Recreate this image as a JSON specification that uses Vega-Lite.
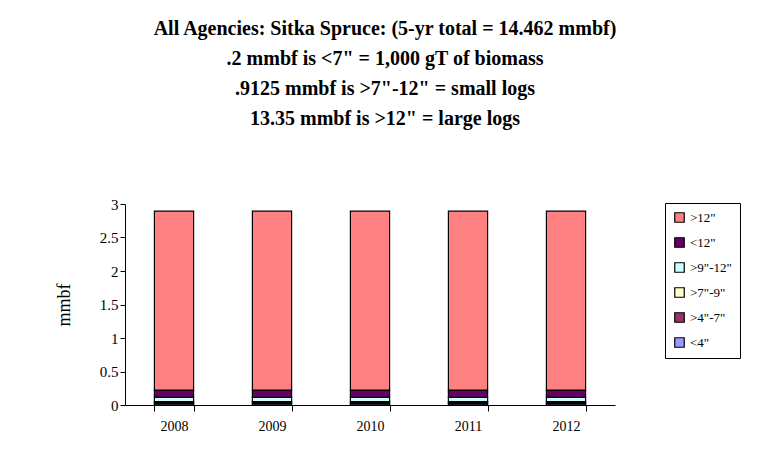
{
  "$schema": "https://vega.github.io/schema/vega-lite/v6.json",
  "width": 490,
  "height": 201,
  "autosize": {"type": "none"},
  "padding": {"left": 125, "top": 204, "right": 150, "bottom": 60},
  "background": "white",
  "title": {
    "text": ["All Agencies:  Sitka Spruce: (5-yr total = 14.462 mmbf)", ".2 mmbf is <7\" = 1,000 gT of biomass", ".9125 mmbf is >7\"-12\" = small logs", "13.35 mmbf is >12\" = large logs"],
    "font": "Liberation Serif",
    "fontSize": 20,
    "fontWeight": "bold",
    "lineHeight": 30,
    "anchor": "middle",
    "dx": 15,
    "offset": 68,
    "color": "black"
  },
  "data": {
    "values": [
      {"year": "2008", "size": "<4\"", "ord": 1, "mmbf": 0.02},
      {"year": "2008", "size": ">4\"-7\"", "ord": 2, "mmbf": 0.02},
      {"year": "2008", "size": ">7\"-9\"", "ord": 3, "mmbf": 0.0125},
      {"year": "2008", "size": ">9\"-12\"", "ord": 4, "mmbf": 0.06},
      {"year": "2008", "size": "<12\"", "ord": 5, "mmbf": 0.11},
      {"year": "2008", "size": ">12\"", "ord": 6, "mmbf": 2.67},
      {"year": "2009", "size": "<4\"", "ord": 1, "mmbf": 0.02},
      {"year": "2009", "size": ">4\"-7\"", "ord": 2, "mmbf": 0.02},
      {"year": "2009", "size": ">7\"-9\"", "ord": 3, "mmbf": 0.0125},
      {"year": "2009", "size": ">9\"-12\"", "ord": 4, "mmbf": 0.06},
      {"year": "2009", "size": "<12\"", "ord": 5, "mmbf": 0.11},
      {"year": "2009", "size": ">12\"", "ord": 6, "mmbf": 2.67},
      {"year": "2010", "size": "<4\"", "ord": 1, "mmbf": 0.02},
      {"year": "2010", "size": ">4\"-7\"", "ord": 2, "mmbf": 0.02},
      {"year": "2010", "size": ">7\"-9\"", "ord": 3, "mmbf": 0.0125},
      {"year": "2010", "size": ">9\"-12\"", "ord": 4, "mmbf": 0.06},
      {"year": "2010", "size": "<12\"", "ord": 5, "mmbf": 0.11},
      {"year": "2010", "size": ">12\"", "ord": 6, "mmbf": 2.67},
      {"year": "2011", "size": "<4\"", "ord": 1, "mmbf": 0.02},
      {"year": "2011", "size": ">4\"-7\"", "ord": 2, "mmbf": 0.02},
      {"year": "2011", "size": ">7\"-9\"", "ord": 3, "mmbf": 0.0125},
      {"year": "2011", "size": ">9\"-12\"", "ord": 4, "mmbf": 0.06},
      {"year": "2011", "size": "<12\"", "ord": 5, "mmbf": 0.11},
      {"year": "2011", "size": ">12\"", "ord": 6, "mmbf": 2.67},
      {"year": "2012", "size": "<4\"", "ord": 1, "mmbf": 0.02},
      {"year": "2012", "size": ">4\"-7\"", "ord": 2, "mmbf": 0.02},
      {"year": "2012", "size": ">7\"-9\"", "ord": 3, "mmbf": 0.0125},
      {"year": "2012", "size": ">9\"-12\"", "ord": 4, "mmbf": 0.06},
      {"year": "2012", "size": "<12\"", "ord": 5, "mmbf": 0.11},
      {"year": "2012", "size": ">12\"", "ord": 6, "mmbf": 2.67}
    ]
  },
  "mark": {"type": "bar", "stroke": "black", "strokeWidth": 1.2},
  "encoding": {
    "x": {
      "field": "year",
      "type": "nominal",
      "scale": {"paddingInner": 0.6, "paddingOuter": 0.3},
      "axis": {
        "title": null,
        "labelAngle": 0,
        "labelFont": "Liberation Serif",
        "labelFontSize": 14,
        "labelColor": "black",
        "labelPadding": 8,
        "tickBand": "extent",
        "tickColor": "black",
        "tickSize": 6,
        "domainColor": "black",
        "grid": false
      }
    },
    "y": {
      "field": "mmbf",
      "type": "quantitative",
      "stack": "zero",
      "scale": {"domain": [0, 3], "nice": false},
      "axis": {
        "title": "mmbf",
        "titleFont": "Liberation Serif",
        "titleFontSize": 18,
        "titleFontWeight": "normal",
        "titleColor": "black",
        "titlePadding": 26,
        "values": [0, 0.5, 1, 1.5, 2, 2.5, 3],
        "format": ".1~f",
        "labelFont": "Liberation Serif",
        "labelFontSize": 15,
        "labelColor": "black",
        "tickColor": "black",
        "tickSize": 5,
        "domainColor": "black",
        "grid": false
      }
    },
    "color": {
      "field": "size",
      "type": "nominal",
      "scale": {
        "domain": [">12\"", "<12\"", ">9\"-12\"", ">7\"-9\"", ">4\"-7\"", "<4\""],
        "range": ["#FF8080", "#660066", "#CCFFFF", "#FFFFCC", "#993366", "#9999FF"]
      },
      "legend": {
        "title": null,
        "orient": "none",
        "legendX": 540,
        "legendY": -1,
        "direction": "vertical",
        "symbolType": "square",
        "symbolSize": 90,
        "symbolStrokeColor": "black",
        "symbolStrokeWidth": 1.2,
        "labelFont": "Liberation Serif",
        "labelFontSize": 13,
        "labelColor": "black",
        "rowPadding": 10,
        "padding": 8,
        "strokeColor": "black",
        "fillColor": "white",
        "labelLimit": 100
      }
    },
    "order": {"field": "ord", "type": "quantitative"}
  },
  "config": {"view": {"stroke": null}}
}
